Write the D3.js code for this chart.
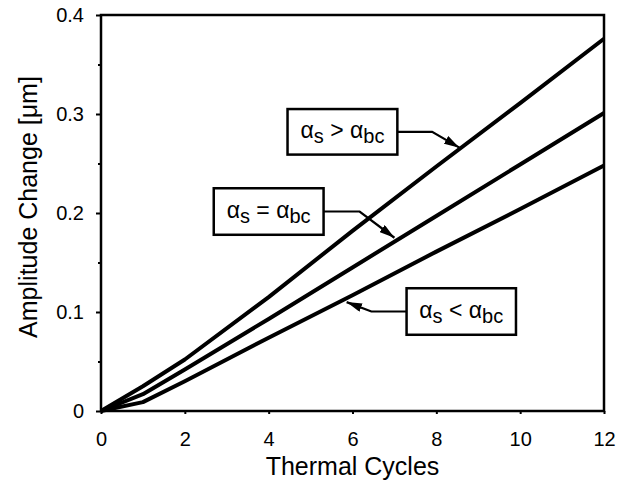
<!DOCTYPE html>
<html>
<head>
<meta charset="utf-8">
<script src="https://cdn.jsdelivr.net/npm/d3@7"></script>
<style>
  body { margin: 0; background: #fff; }
  text { font-family: "Liberation Sans", Arial, sans-serif; fill: #000; }
</style>
</head>
<body>
<div id="chart"></div>
<script>
// data
var cycles = [0, 1, 2, 4, 6, 8, 10, 12];
var ampGreater = [0, 0.025, 0.052, 0.115, 0.182, 0.247, 0.311, 0.376];
var ampEqual   = [0, 0.017, 0.042, 0.093, 0.145, 0.197, 0.249, 0.301];
var ampLess    = [0, 0.009, 0.030, 0.074, 0.117, 0.161, 0.204, 0.248];
var xTicks = [0, 2, 4, 6, 8, 10, 12];
var yTicks = [0, 0.1, 0.2, 0.3, 0.4];
var yMinorTicks = [0.05, 0.15, 0.25, 0.35];
var labelOps = [">", "=", "<"];

var svgWidth = 627;
var svgHeight = 487;
var margin = { top: 15, right: 23, bottom: 76, left: 101 };
var chartWidth = svgWidth - margin.left - margin.right;
var chartHeight = svgHeight - margin.top - margin.bottom;

var svg = d3.select("#chart")
  .append("svg")
  .attr("width", svgWidth)
  .attr("height", svgHeight);

var chartGroup = svg.append("g")
  .attr("transform", `translate(${margin.left}, ${margin.top})`);

var xScale = d3.scaleLinear().domain([0, 12]).range([0, chartWidth]);
var yScale = d3.scaleLinear().domain([0, 0.4]).range([chartHeight, 0]);

// minor y ticks
chartGroup.append("g")
  .call(d3.axisLeft(yScale).tickValues(yMinorTicks).tickSize(3).tickFormat(""))
  .call(g => g.select(".domain").remove())
  .selectAll("line").attr("stroke-width", 2);

// y axis
var yAxis = chartGroup.append("g")
  .call(d3.axisLeft(yScale).tickValues(yTicks).tickSize(5).tickPadding(12)
    .tickFormat(d => d === 0 ? "0" : d3.format(".1f")(d)));
yAxis.select(".domain").remove();
yAxis.selectAll("line").attr("stroke-width", 2);
yAxis.selectAll("text").style("font-size", "20px");

// x axis
var xAxis = chartGroup.append("g")
  .attr("transform", "translate(0, " + chartHeight + ")")
  .call(d3.axisBottom(xScale).tickValues(xTicks).tickSize(3).tickPadding(18));
xAxis.select(".domain").remove();
xAxis.selectAll("line").attr("stroke-width", 2);
xAxis.selectAll("text").style("font-size", "20px");

// plot frame
chartGroup.append("rect")
  .attr("x", 0).attr("y", 0)
  .attr("width", chartWidth).attr("height", chartHeight)
  .attr("fill", "none").attr("stroke", "#000").attr("stroke-width", 2.5);

// axis titles
chartGroup.append("text")
  .attr("x", chartWidth / 2)
  .attr("y", chartHeight + 64)
  .style("text-anchor", "middle")
  .style("font-size", "25px")
  .text("Thermal Cycles");

chartGroup.append("text")
  .attr("transform", "rotate(-90)")
  .attr("x", -chartHeight / 2 + 6)
  .attr("y", -margin.left + 37)
  .style("text-anchor", "middle")
  .style("font-size", "25px")
  .text("Amplitude Change [\u03bcm]");

// curves
var line = d3.line()
  .x(d => xScale(d[0]))
  .y(d => yScale(d[1]));

[ampGreater, ampEqual, ampLess].forEach(function(series) {
  chartGroup.append("path")
    .datum(cycles.map((c, i) => [c, series[i]]))
    .attr("d", line)
    .attr("fill", "none")
    .attr("stroke", "#000")
    .attr("stroke-width", 4)
    .attr("stroke-linejoin", "round");
});

// annotation boxes (data coords): box corners, elbow, arrow tip
var boxes = [
  { box: [4.45, 0.305, 7.07, 0.259], elbow: [7.9, 0.281], tip: [8.55, 0.266] },
  { box: [2.69, 0.225, 5.31, 0.178], elbow: [6.17, 0.201], tip: [7.0, 0.175] },
  { box: [7.29, 0.124, 9.9, 0.077], elbow: [6.45, 0.095], tip: [5.86, 0.110] }
];

svg.append("defs").append("marker")
  .attr("id", "head")
  .attr("viewBox", "0 0 14 8")
  .attr("refX", 14).attr("refY", 4)
  .attr("markerWidth", 7).attr("markerHeight", 4)
  .attr("markerUnits", "strokeWidth")
  .attr("orient", "auto")
  .append("path")
  .attr("d", "M0,0 L14,4 L0,8 Z")
  .attr("fill", "#000");

boxes.forEach(function(b, i) {
  var x0 = xScale(b.box[0]), y0 = yScale(b.box[1]);
  var x1 = xScale(b.box[2]), y1 = yScale(b.box[3]);
  var midY = (y0 + y1) / 2;
  var startX = b.elbow[0] > b.box[2] ? x1 : x0;

  chartGroup.append("path")
    .attr("d", `M${startX},${midY} L${xScale(b.elbow[0])},${midY} L${xScale(b.tip[0])},${yScale(b.tip[1])}`)
    .attr("fill", "none")
    .attr("stroke", "#000")
    .attr("stroke-width", 2.2)
    .attr("marker-end", "url(#head)");

  chartGroup.append("rect")
    .attr("x", x0).attr("y", y0)
    .attr("width", x1 - x0).attr("height", y1 - y0)
    .attr("fill", "#fff")
    .attr("stroke", "#000")
    .attr("stroke-width", 2.5);

  var t = chartGroup.append("text")
    .attr("x", (x0 + x1) / 2)
    .attr("y", midY + 6)
    .style("text-anchor", "middle")
    .style("font-size", "23px");
  t.append("tspan").text("\u03b1");
  t.append("tspan").attr("dy", 5).style("font-size", "20px").text("s");
  t.append("tspan").attr("dy", -5).text(" " + labelOps[i] + " \u03b1");
  t.append("tspan").attr("dy", 5).style("font-size", "20px").text("bc");
});
</script>
</body>
</html>
